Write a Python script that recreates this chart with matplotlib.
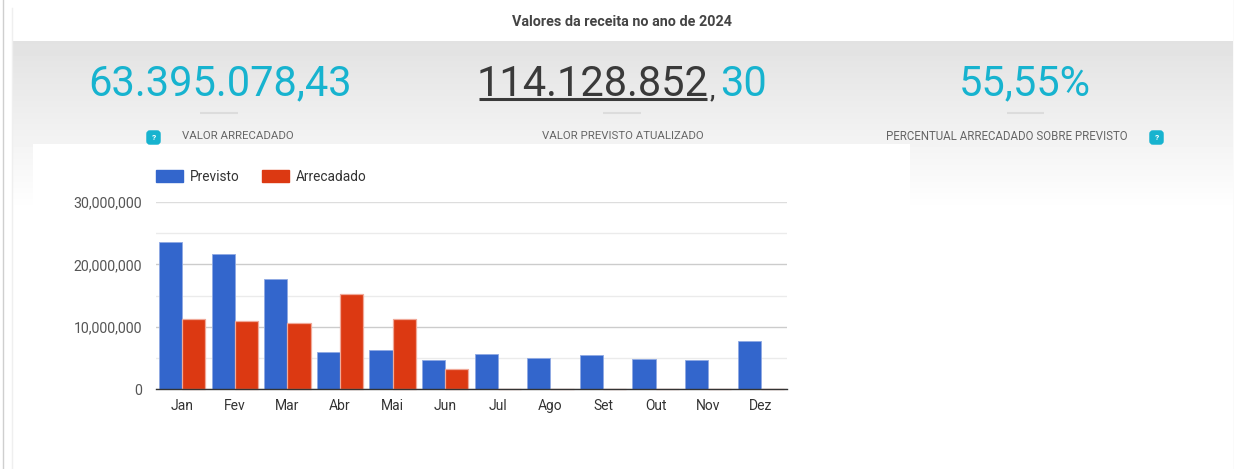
import matplotlib
matplotlib.use("Agg")
import matplotlib.pyplot as plt
from matplotlib.patches import FancyBboxPatch, Rectangle, Patch
import numpy as np

plt.rcParams['font.family'] = ['Roboto', 'DejaVu Sans']

months = ["Jan", "Fev", "Mar", "Abr", "Mai", "Jun", "Jul", "Ago", "Set", "Out", "Nov", "Dez"]
previsto = [23.6e6, 21.7e6, 17.6e6, 5.9e6, 6.2e6, 4.6e6, 5.6e6, 4.9e6, 5.4e6, 4.8e6, 4.6e6, 7.65e6]
arrecadado = [11.25e6, 10.9e6, 10.6e6, 15.3e6, 11.25e6, 3.15e6, 0, 0, 0, 0, 0, 0]
y_ticks = [0, 10000000, 20000000, 30000000]
y_minor = [5000000, 15000000, 25000000]

title = "Valores da receita no ano de 2024"
valor_arrecadado = "63.395.078,43"
valor_previsto_int = "114.128.852"
valor_previsto_dec = "30"
percentual = "55,55%"
label_arrecadado = "VALOR ARRECADADO"
label_previsto = "VALOR PREVISTO ATUALIZADO"
label_percentual = "PERCENTUAL ARRECADADO SOBRE PREVISTO"

W, H = 1234, 469
CYAN = "#17b3cf"
DARK = "#3a3a3a"
BLUE = "#3366cc"
RED = "#dc3912"

fig = plt.figure(figsize=(W / 100, H / 100), dpi=100, facecolor="white")

# page background, in pixel coordinates
bg = fig.add_axes([0, 0, 1, 1])
bg.set_xlim(0, W)
bg.set_ylim(H, 0)
bg.axis("off")
grad = np.linspace(0.885, 1.0, 170).reshape(-1, 1)
bg.imshow(grad, cmap="gray", vmin=0, vmax=1, extent=[12, 1233, 211, 41], aspect="auto")
bg.set_xlim(0, W)
bg.set_ylim(H, 0)
bg.add_patch(Rectangle((33, 144), 877, 70, color="white", lw=0))
bg.plot([2.5, 2.5], [0, H], color="#cfcfcf", lw=1)
bg.plot([11.5, 11.5], [8, H], color="#efefef", lw=1)
bg.plot([1233.5, 1233.5], [0, H], color="#e8e8e8", lw=1)

bg.text(622, 22, title, ha="center", va="center", fontsize=10.4, fontweight="bold", color="#444444")

bg.text(220, 84, valor_arrecadado, ha="center", va="center", fontsize=30, color=CYAN)
bg.text(593, 84, valor_previsto_int, ha="center", va="center", fontsize=30, color=DARK)
bg.plot([479, 707], [99, 99], color=DARK, lw=2.2, solid_capstyle="butt")
bg.text(710, 91, ",", ha="left", va="center", fontsize=16, fontweight="bold", color=DARK)
bg.text(720, 84, valor_previsto_dec, ha="left", va="center", fontsize=30, color=CYAN)
bg.text(1025, 84, percentual, ha="center", va="center", fontsize=30, color=CYAN)

for x0, x1 in [(200, 238), (603, 641), (1007, 1044)]:
    bg.plot([x0, x1], [113.5, 113.5], color="#dcdcdc", lw=1.5, solid_capstyle="butt")

bg.text(237.5, 136, label_arrecadado, ha="center", va="center", fontsize=8.2, color="#666666")
bg.text(623, 136, label_previsto, ha="center", va="center", fontsize=8.2, color="#666666")
bg.text(1007, 136, label_percentual, ha="center", va="center", fontsize=8.3, color="#666666")

for x in [146, 1149]:
    bg.add_patch(FancyBboxPatch((x + 2, 132), 11, 11, boxstyle="round,pad=0,rounding_size=2",
                                mutation_aspect=1, fc=CYAN, ec=CYAN, lw=2.5, zorder=3))
    bg.text(x + 7.5, 137.5, "?", ha="center", va="center", fontsize=6, fontweight="bold", color="white", zorder=4)

# chart
ax = fig.add_axes([156 / W, (H - 389) / H, 631 / W, 187 / H])
ax.patch.set_alpha(0)
x = np.arange(len(months)) + 0.5
bar_width = 0.44
ax.bar(x - bar_width / 2, previsto, bar_width, color=BLUE, edgecolor="#8fa9e3", linewidth=0.6, zorder=2)
ax.bar(x + bar_width / 2, arrecadado, bar_width, color=RED, edgecolor="#f0a999", linewidth=0.9, zorder=2,
       clip_on=False)

ax.set_xlim(0, 12)
ax.set_ylim(0, 30000000)
ax.set_xticks(x)
ax.set_xticklabels(months)
ax.set_yticks(y_ticks)
ax.set_yticklabels([f"{v:,}" for v in y_ticks])
ax.set_yticks(y_minor, minor=True)
ax.tick_params(axis="x", length=0, pad=7.5, labelsize=10, labelcolor="#333333")
ax.tick_params(axis="y", length=0, pad=10, labelsize=10.2, labelcolor="#555555")
ax.tick_params(axis="y", which="minor", length=0)
ax.grid(True, axis="y", which="major", color="#cccccc", lw=1, zorder=0)
ax.grid(True, axis="y", which="minor", color="#ebebeb", lw=1, zorder=0)
ax.get_ygridlines()[-1].set_color("#dddddd")
ax.set_axisbelow(True)
for s in ["top", "right", "left"]:
    ax.spines[s].set_visible(False)
ax.spines["bottom"].set_color("#333333")
ax.spines["bottom"].set_linewidth(1)

handles = [Patch(color=BLUE, label="Previsto"), Patch(color=RED, label="Arrecadado")]
fig.legend(handles=handles, loc="center left", bbox_to_anchor=(156 / W, 1 - 177 / H), ncol=2, frameon=False,
           fontsize=9.8, labelcolor="#333333", borderpad=0, borderaxespad=0, handlelength=2.0, handleheight=0.95,
           handletextpad=0.5, columnspacing=1.65)

fig.savefig("out.png", dpi=100)
